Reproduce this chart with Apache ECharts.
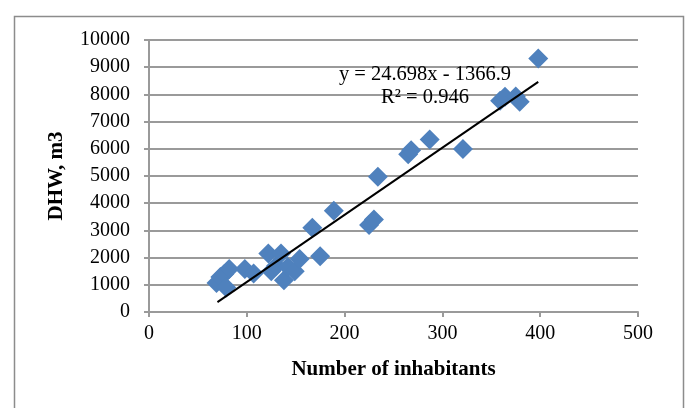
<!DOCTYPE html>
<html>
<head>
<meta charset="utf-8">
<script src="https://cdn.jsdelivr.net/npm/echarts@6/dist/echarts.min.js"></script>
<style>
html,body{margin:0;padding:0;background:#fff;}
#c{width:685px;height:408px;}
</style>
</head>
<body>
<div id="c"></div>
<script>
// Data
var inhabitants = [69, 73, 77, 79, 82, 98, 107, 122, 125, 130, 135, 138, 142, 149, 154, 167, 175, 189, 225, 230, 234, 265, 268, 287, 321, 359, 364, 375, 379, 398];
var dhw = [1070, 1290, 1400, 900, 1580, 1580, 1420, 2150, 1500, 1700, 2150, 1170, 1650, 1500, 1950, 3100, 2050, 3720, 3200, 3400, 4970, 5800, 5950, 6340, 5990, 7770, 7910, 7920, 7730, 9320];
var trendSlope = 24.698;
var trendIntercept = -1366.9;
var trendRange = [70, 398];
var equationText = 'y = 24.698x - 1366.9';
var r2Text = 'R² = 0.946';
var xTitle = 'Number of inhabitants';
var yTitle = 'DHW, m3';

var points = inhabitants.map(function (x, i) { return [x, dhw[i]]; });
var trend = trendRange.map(function (x) { return [x, trendSlope * x + trendIntercept]; });

var font = '"Liberation Serif", "Times New Roman", serif';
var grey = '#9a9a9a';
var plain = function (v) { return String(v); };

var chart = echarts.init(document.getElementById('c'));
chart.setOption({
  animation: false,
  backgroundColor: '#fff',
  grid: { left: 149, right: 47, top: 40, bottom: 96 },
  xAxis: {
    type: 'value', min: 0, max: 500, interval: 100,
    name: xTitle, nameLocation: 'middle', nameGap: 47,
    nameTextStyle: { fontFamily: font, fontSize: 21, fontWeight: 'bold', color: '#000' },
    axisLine: { show: true, onZero: false, lineStyle: { color: grey, width: 2 } },
    axisTick: { show: true, inside: false, length: 5, lineStyle: { color: grey, width: 2 } },
    axisLabel: { fontFamily: font, fontSize: 20, color: '#000', margin: 12, formatter: plain },
    splitLine: { show: false }
  },
  yAxis: {
    type: 'value', min: 0, max: 10000, interval: 1000,
    name: yTitle, nameLocation: 'middle', nameGap: 82, nameRotate: 90,
    nameTextStyle: { fontFamily: font, fontSize: 21, fontWeight: 'bold', color: '#000' },
    axisLine: { show: true, lineStyle: { color: grey, width: 2 } },
    axisTick: { show: true, inside: false, length: 5, lineStyle: { color: grey, width: 2 } },
    axisLabel: { fontFamily: font, fontSize: 20, color: '#000', margin: 19, formatter: plain },
    splitLine: { show: true, lineStyle: { color: grey, width: 2 } }
  },
  series: [
    {
      type: 'scatter', data: points, symbol: 'diamond', symbolSize: 20,
      itemStyle: { color: '#4f81bd', opacity: 1 }, z: 3
    },
    {
      type: 'line', data: trend, symbol: 'none', silent: true,
      lineStyle: { color: '#000', width: 2 }, z: 4
    }
  ],
  graphic: [
    {
      type: 'rect', left: 12, top: 14, silent: true,
      shape: { width: 669, height: 420 },
      style: { fill: 'none', stroke: '#8c8c8c', lineWidth: 1.5 }
    },
    {
      type: 'text', x: 425, y: 75, silent: true, z: 10,
      style: { text: equationText, align: 'center', verticalAlign: 'middle', font: '20.5px ' + font, fill: '#000' }
    },
    {
      type: 'text', x: 425, y: 98, silent: true, z: 10,
      style: { text: r2Text, align: 'center', verticalAlign: 'middle', font: '20.5px ' + font, fill: '#000' }
    }
  ]
});
</script>
</body>
</html>
